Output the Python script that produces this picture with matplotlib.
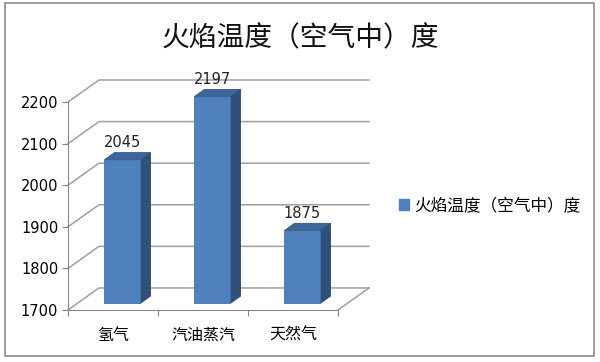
#!/usr/bin/env python3
"""Pseudo-3D column chart: flame temperature in air."""
import matplotlib
matplotlib.use("Agg")
import matplotlib.pyplot as plt
from matplotlib.patches import Polygon, Rectangle, Patch

CATEGORIES = ["氢气", "汽油蒸汽", "天然气"]
VALUES = [2045, 2197, 1875]
SERIES_NAME = "火焰温度（空气中）度"
TITLE = "火焰温度（空气中）度"
YTICKS = [1700, 1800, 1900, 2000, 2100, 2200]

# depth of the wall in data units (x in categories, y in value units)
DX = 0.344
DY = 53.0
BAR_FRONT = 0.30   # fraction of depth where bar front face sits
BAR_DEPTH = 0.33   # fraction of depth the bar occupies
BAR_W = 0.40

FRONT = "#4F81BD"
TOP = "#3C659A"
SIDE = "#2F5078"
GRID = "#A0A0A0"
AXIS = "#868686"

plt.rcParams["font.family"] = ["DejaVu Sans", "Noto Sans CJK SC"]
CJK = ["Noto Sans CJK SC", "DejaVu Sans"]

fig = plt.figure(figsize=(6.0, 3.62), dpi=100)
ymin, ymax = YTICKS[0], YTICKS[-1]
n = len(CATEGORIES)

ax = fig.add_axes([68 / 600, 1 - 310 / 362, (369 - 68) / 600, (310 - 80) / 362])
ax.set_xlim(0, n + DX)
ax.set_ylim(ymin, ymax + DY)
ax.patch.set_visible(False)
for s in ["top", "right"]:
    ax.spines[s].set_visible(False)
ax.spines["left"].set_bounds(ymin, ymax)
ax.spines["bottom"].set_bounds(0, n)
ax.spines["left"].set_color(AXIS)
ax.spines["bottom"].set_color(AXIS)

# back wall grid + left wall diagonals
for v in YTICKS:
    ax.plot([0, DX, n + DX], [v, v + DY, v + DY], color=GRID, lw=1.1, zorder=1,
            clip_on=False)
# floor right edge
ax.plot([n, n + DX], [ymin, ymin + DY], color=GRID, lw=1.1, zorder=1, clip_on=False)

ax.set_yticks(YTICKS)
ax.set_yticklabels([str(v) for v in YTICKS], fontsize=10.5)
ax.set_xticks(range(n + 1))
ax.set_xticklabels([""] * (n + 1))
ax.set_xticks([i + 0.5 for i in range(n)], minor=True)
ax.set_xticklabels(CATEGORIES, minor=True, fontsize=11.5, family=CJK)
ax.tick_params(axis="x", which="minor", length=0, pad=12)
ax.tick_params(axis="both", which="major", length=4, color=AXIS, pad=3)

# bars
for i, v in enumerate(VALUES):
    cx = i + 0.5 + BAR_FRONT * DX
    base = ymin + BAR_FRONT * DY
    x0, x1 = cx - BAR_W / 2, cx + BAR_W / 2
    top = base + (v - ymin)
    ddx, ddy = BAR_DEPTH * DX, BAR_DEPTH * DY
    ax.add_patch(Polygon([(x1, base), (x1 + ddx, base + ddy), (x1 + ddx, top + ddy),
                          (x1, top)], closed=True, fc=SIDE, ec="#2A4868", lw=0.6,
                         zorder=3))
    ax.add_patch(Polygon([(x0, top), (x1, top), (x1 + ddx, top + ddy),
                          (x0 + ddx, top + ddy)], closed=True, fc=TOP, ec="#2F5580",
                         lw=0.6, zorder=3))
    ax.add_patch(Rectangle((x0, base), BAR_W, v - ymin, fc=FRONT, ec="#4273AE",
                           lw=0.6, zorder=4))
    ax.annotate(str(v), (cx, top + ddy), xytext=(0, 2), textcoords="offset points",
                ha="center", va="bottom", fontsize=10.5, color="#222222")

# title
fig.text(0.5, 1 - 38 / 362, TITLE, ha="center", va="center", fontsize=20,
         family=CJK, color="#111111")

# legend
fig.legend(handles=[Patch(fc=FRONT, ec=FRONT)], labels=[SERIES_NAME],
           loc="center left", bbox_to_anchor=(399 / 600, 1 - 206 / 362),
           frameon=False, handlelength=0.6, handleheight=0.6, handletextpad=0.3,
           borderpad=0, borderaxespad=0, prop={"family": CJK, "size": 12})

# outer chart border
fig.patches.append(Rectangle((5 / 600, 1 - 356 / 362), 589 / 600, 353 / 362,
                             transform=fig.transFigure, fill=False, ec="#8C8C8C",
                             lw=1.2))

fig.savefig("out.png", dpi=100)
